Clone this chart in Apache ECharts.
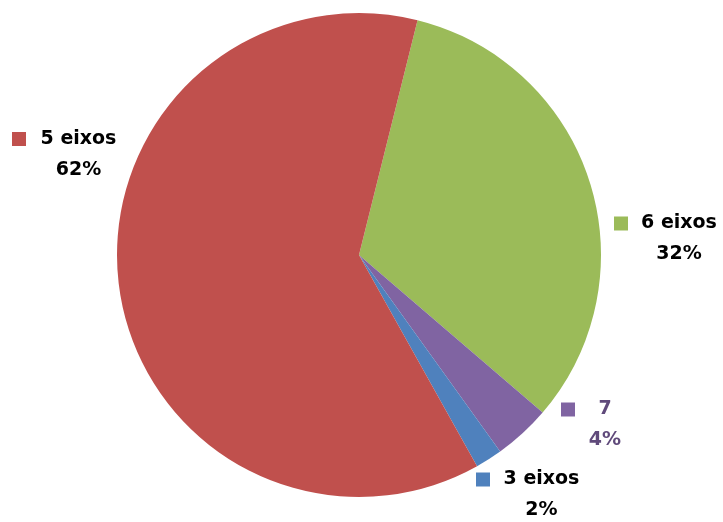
<!DOCTYPE html>
<html>
<head>
<meta charset="utf-8">
<script src="https://cdn.jsdelivr.net/npm/echarts@6/dist/echarts.min.js"></script>
<style>
html,body{margin:0;padding:0;background:#fff;}
#c{width:723px;height:522px;}
</style>
</head>
<body>
<div id="c"></div>
<script>
// Data (clockwise order from top boundary)
var categories = ['6 eixos', '7', '3 eixos', '5 eixos'];
var values = [32.4, 3.8, 1.8, 62.0];
var colors = ['#9BBB59', '#8064A2', '#4F81BD', '#C0504D'];
var textColors = ['#000000', '#604A7B', '#000000', '#000000'];

// label layout (positions only)
var labelPos = [
  {x: 614, y: 208, w: 80},
  {x: 561, y: 394, w: 38},
  {x: 476, y: 464, w: 81},
  {x: 12, y: 123.5, w: 83}
];

var font = 'DejaVu Sans';
var fs = 19;
var lh = 31;

var data = categories.map(function (name, i) {
  return {
    name: name,
    value: values[i],
    itemStyle: {color: colors[i]},
    label: {
      rich: {
        sq: {width: 14, height: 14, backgroundColor: colors[i]},
        gap: {width: 11, height: 14},
        sp: {width: 25, height: 14},
        name: {width: labelPos[i].w, align: 'center', fontFamily: font, fontWeight: 'bold', fontSize: fs, lineHeight: lh, color: textColors[i]},
        pct: {width: labelPos[i].w, align: 'center', fontFamily: font, fontWeight: 'bold', fontSize: fs, lineHeight: lh, color: textColors[i]}
      }
    }
  };
});

var chart = echarts.init(document.getElementById('c'), null, {renderer: 'canvas'});
chart.setOption({
  animation: false,
  backgroundColor: '#ffffff',
  series: [{
    type: 'pie',
    center: [359, 255],
    radius: [0, 242],
    startAngle: 76,
    clockwise: true,
    percentPrecision: 0,
    avoidLabelOverlap: false,
    silent: true,
    itemStyle: {borderWidth: 0},
    label: {
      show: true,
      position: 'outside',
      formatter: function (p) {
        return '{sq|}{gap|}{name|' + p.name + '}\n{sp|}{pct|' + Math.round(p.percent) + '%}';
      }
    },
    labelLine: {show: false},
    labelLayout: function (p) {
      var L = labelPos[p.dataIndex];
      return {x: L.x, y: L.y, align: 'left', verticalAlign: 'top'};
    },
    data: data
  }]
});
</script>
</body>
</html>
